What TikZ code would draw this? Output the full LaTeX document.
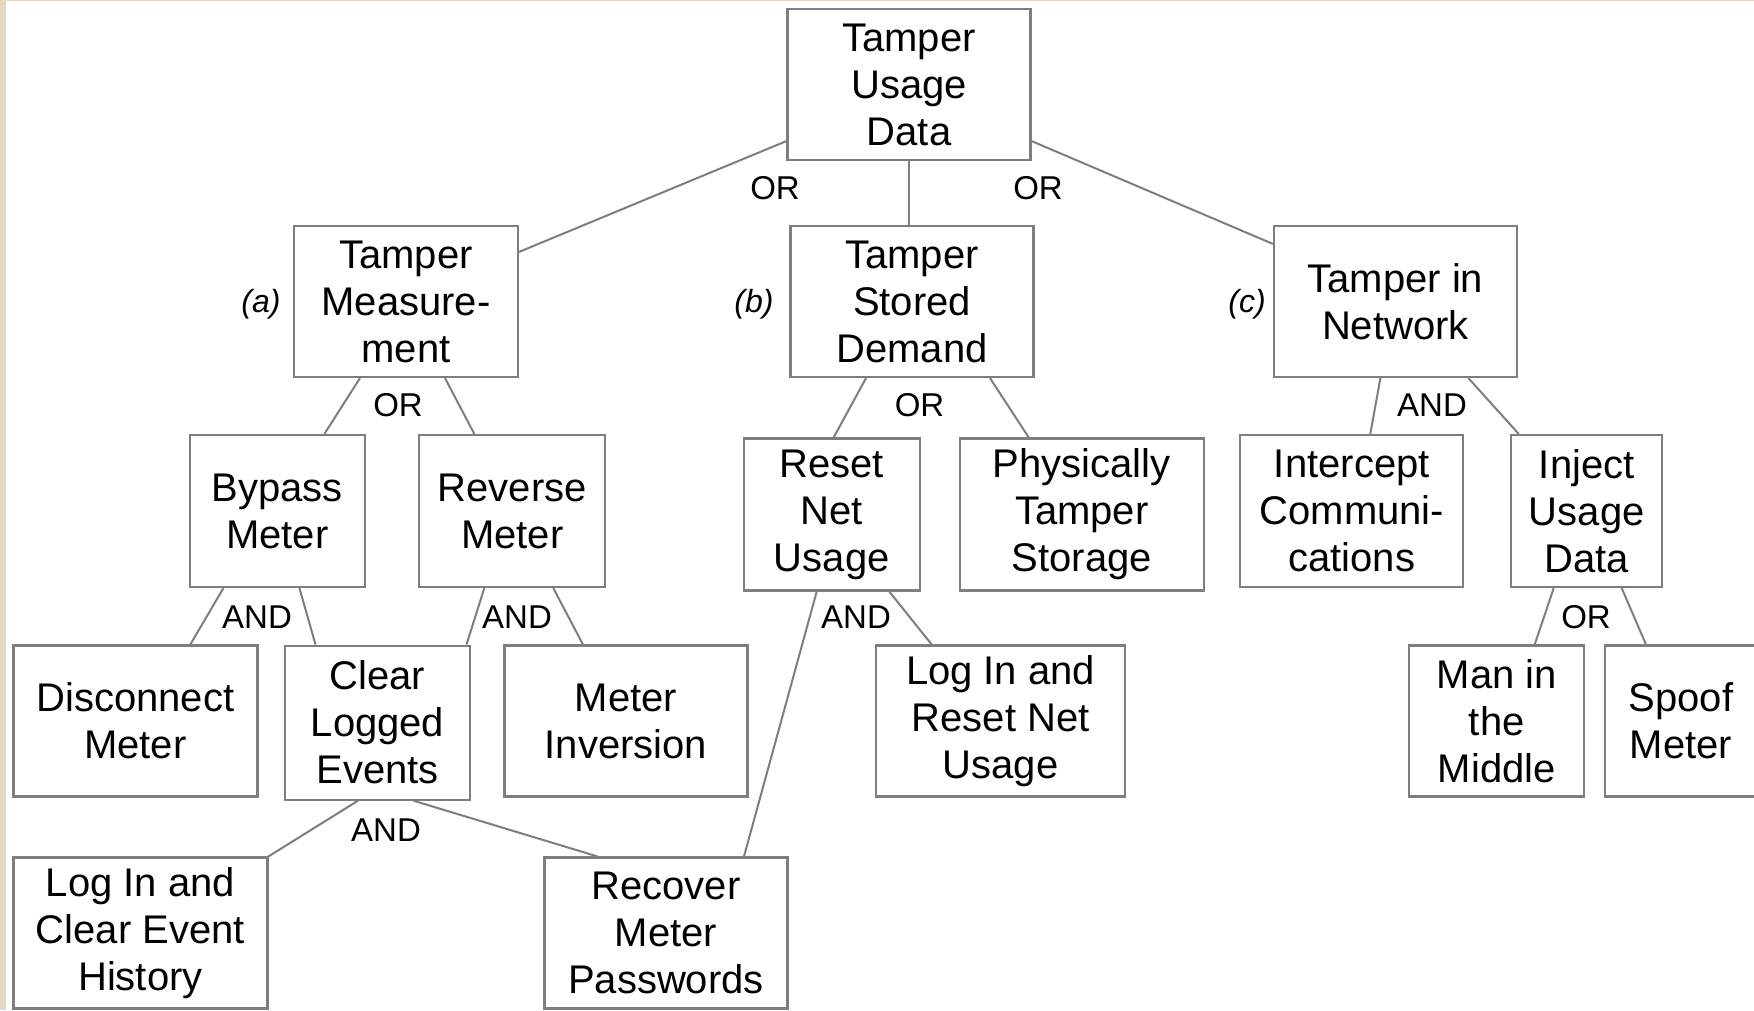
\documentclass[tikz,border=0pt]{standalone}
\usepackage{fontspec}
\setmainfont{Liberation Sans}
\definecolor{paper}{HTML}{E2D8C5}
\definecolor{rule}{HTML}{7E7E7E}

\begin{document}
\begin{tikzpicture}[x=1pt, y=-1pt,
	every node/.style={font=\fontsize{40}{47}\selectfont},
	box/.style={draw=rule, line width=2.2pt, fill=white, align=center, inner sep=0pt, minimum height=151pt},
	gate/.style={font=\fontsize{33}{38}\selectfont},
	tag/.style={font=\fontsize{32}{38}\selectfont\itshape},
	link/.style={draw=rule, line width=2pt}]
	\fill[paper] (0,0) rectangle (1754,1010);
	\fill[white] (6,1) rectangle (1754,1010);
	\useasboundingbox (0,0) rectangle (1754,1010);
	% top and first level
	\node[box, minimum width=243pt] (root) at (909,84.5) {Tamper\\ Usage\\ Data};
	\node[box, minimum width=224pt] (meas) at (406,301.5) {Tamper\\ Measure-\\ ment};
	\node[box, minimum width=243pt] (stored) at (912,301.5) {Tamper\\ Stored\\ Demand};
	\node[box, minimum width=243pt] (net) at (1395.4,301.5) {Tamper in\\ Network};
	% second level
	\node[box, minimum width=175pt, minimum height=152pt] (bypass) at (277.4,511) {Bypass\\ Meter};
	\node[box, minimum width=186pt, minimum height=152pt] (reverse) at (512.3,511) {Reverse\\ Meter};
	\node[box, minimum width=176pt, minimum height=152pt] (reset) at (831.7,514.5) {Reset\\ Net\\ Usage};
	\node[box, minimum width=244pt, minimum height=152pt] (phys) at (1081.7,514.5) {Physically\\ Tamper\\ Storage};
	\node[box, minimum width=223pt, minimum height=152pt] (intercept) at (1351.8,511) {Intercept\\ Communi-\\ cations};
	\node[box, minimum width=151pt, minimum height=152pt] (inject) at (1586.7,511) {Inject\\ Usage\\ Data};
	% third level
	\node[box, minimum width=244pt] (disconnect) at (135.4,721) {Disconnect\\ Meter};
	\node[box, minimum width=185pt, minimum height=154pt] (clearlog) at (377.5,722.6) {Clear\\ Logged\\ Events};
	\node[box, minimum width=243pt] (inversion) at (625.9,721) {Meter\\ Inversion};
	\node[box, minimum width=249pt] (loginreset) at (1000.6,721) {Log In and\\ Reset Net\\ Usage};
	\node[box, minimum width=175pt] (mitm) at (1496.7,721) {Man in\\ the\\ Middle};
	\node[box, minimum width=152pt] (spoof) at (1681,721) {Spoof\\ Meter};
	% fourth level
	\node[box, minimum width=254pt] (loginclear) at (140.4,933) {Log In and\\ Clear Event\\ History};
	\node[box, minimum width=243pt] (recover) at (666,933) {Recover\\ Meter\\ Passwords};
	% gates and tags
	\node[gate] (orroota) at (775,188) {OR};
	\node[gate] (orrootb) at (1038,188) {OR};
	\node[tag] (taga) at (261,304) {(a)};
	\node[tag] (tagb) at (754,304) {(b)};
	\node[tag] (tagc) at (1247,304) {(c)};
	\node[gate] (ormeas) at (398,405) {OR};
	\node[gate] (orstored) at (919.5,405) {OR};
	\node[gate] (andnet) at (1432,405) {AND};
	\node[gate] (andbypass) at (257,617.5) {AND};
	\node[gate] (andreverse) at (517,617.5) {AND};
	\node[gate] (andreset) at (856,617.5) {AND};
	\node[gate] (orinject) at (1586,617.5) {OR};
	\node[gate] (andclear) at (386,830) {AND};
	% connectors
	\draw[link] ([yshift=20pt]root.south west) -- ([yshift=-27pt]meas.north east);
	\draw[link] (root.south) -- (root.south |- stored.north);
	\draw[link] ([yshift=20pt]root.south east) -- ([yshift=-19pt]net.north west);
	\draw[link] ([xshift=-46pt]meas.south) -- ([xshift=47pt]bypass.north);
	\draw[link] ([xshift=39pt]meas.south) -- ([xshift=-38pt]reverse.north);
	\draw[link] ([xshift=-46pt]stored.south) -- ([xshift=2pt]reset.north);
	\draw[link] ([xshift=78pt]stored.south) -- ([xshift=-53pt]phys.north);
	\draw[link] ([xshift=-15pt]net.south) -- ([xshift=18.5pt]intercept.north);
	\draw[link] ([xshift=73pt]net.south) -- ([xshift=-68pt]inject.north);
	\draw[link] ([xshift=-54pt]bypass.south) -- ([xshift=55pt]disconnect.north);
	\draw[link] ([xshift=22pt]bypass.south) -- ([xshift=-62pt]clearlog.north);
	\draw[link] ([xshift=-28pt]reverse.south) -- ([xshift=89pt]clearlog.north);
	\draw[link] ([xshift=41pt]reverse.south) -- ([xshift=-43pt]inversion.north);
	\draw[link] ([xshift=-15pt]reset.south) -- ([xshift=78pt]recover.north);
	\draw[link] ([xshift=57.6pt]reset.south) -- ([xshift=-69pt]loginreset.north);
	\draw[link] ([xshift=-33pt]inject.south) -- ([xshift=38pt]mitm.north);
	\draw[link] ([xshift=35pt]inject.south) -- ([xshift=42pt]spoof.north west);
	\draw[link] ([xshift=-19.5pt]clearlog.south) -- (loginclear.north east);
	\draw[link] ([xshift=36pt]clearlog.south) -- ([xshift=54pt]recover.north west);
\end{tikzpicture}
\end{document}
